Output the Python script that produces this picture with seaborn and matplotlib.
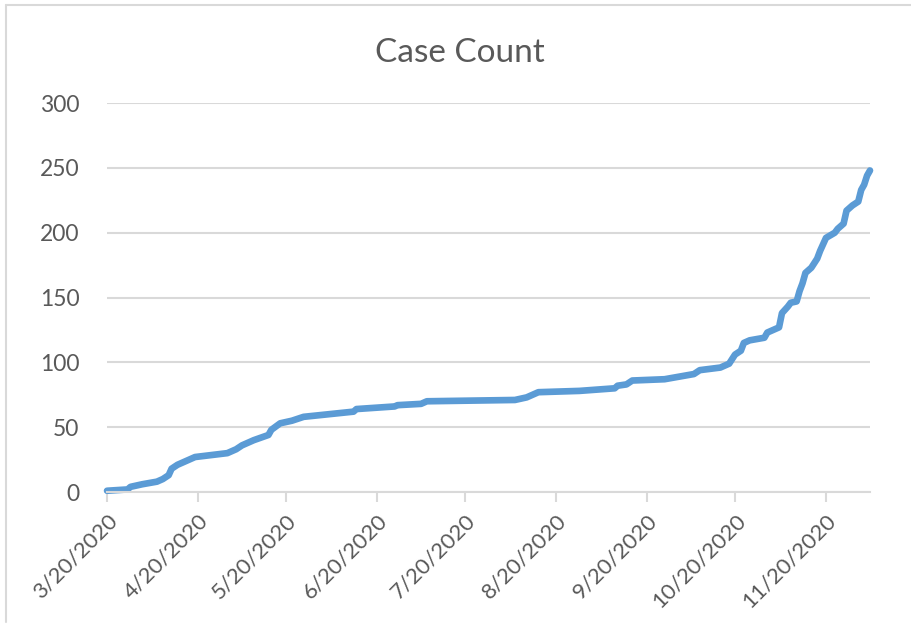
import pandas as pd
import matplotlib
matplotlib.use("Agg")
import matplotlib.pyplot as plt
from matplotlib.lines import Line2D
import seaborn as sns

sns.set_style("white")
plt.rcParams['font.family'] = ['Lato', 'DejaVu Sans']

# datos (casos acumulados)
dates = ["2020-03-20", "2020-03-27", "2020-03-28", "2020-04-01", "2020-04-06",
         "2020-04-08", "2020-04-10", "2020-04-11", "2020-04-13", "2020-04-16",
         "2020-04-19", "2020-04-30", "2020-05-03", "2020-05-05", "2020-05-09",
         "2020-05-14", "2020-05-15", "2020-05-18", "2020-05-22", "2020-05-26",
         "2020-06-12", "2020-06-13", "2020-06-26", "2020-06-27", "2020-07-05",
         "2020-07-07", "2020-08-06", "2020-08-10", "2020-08-14", "2020-08-28",
         "2020-09-09", "2020-09-10", "2020-09-13", "2020-09-15", "2020-09-26",
         "2020-10-01", "2020-10-06", "2020-10-08", "2020-10-15", "2020-10-18",
         "2020-10-20", "2020-10-22", "2020-10-23", "2020-10-25", "2020-10-30",
         "2020-10-31", "2020-11-04", "2020-11-05", "2020-11-07", "2020-11-08",
         "2020-11-10", "2020-11-11", "2020-11-12", "2020-11-13", "2020-11-15",
         "2020-11-17", "2020-11-18", "2020-11-20", "2020-11-23", "2020-11-24",
         "2020-11-26", "2020-11-27", "2020-11-29", "2020-12-01", "2020-12-02",
         "2020-12-03", "2020-12-04", "2020-12-05"]
cases = [1, 2, 4, 6, 8, 10, 13, 18, 21, 24,
         27, 30, 33, 36, 40, 44, 48, 53, 55, 58,
         62, 64, 66, 67, 68, 70, 71, 73, 77, 78,
         80, 82, 83, 86, 87, 89, 91, 94, 96, 99,
         106, 109, 115, 117, 119, 123, 127, 138, 143, 146,
         147, 155, 161, 169, 173, 180, 186, 196, 200, 203,
         207, 217, 221, 224, 233, 237, 244, 248]

tick_dates = ["2020-03-20", "2020-04-20", "2020-05-20", "2020-06-20", "2020-07-20",
              "2020-08-20", "2020-09-20", "2020-10-20", "2020-11-20"]
tick_labels = ["3/20/2020", "4/20/2020", "5/20/2020", "6/20/2020", "7/20/2020",
               "8/20/2020", "9/20/2020", "10/20/2020", "11/20/2020"]
y_ticks = [0, 50, 100, 150, 200, 250, 300]

df = pd.DataFrame({"Fecha": pd.to_datetime(dates), "Casos": cases})

GRID = "#D9D9D9"
TXT = "#595959"

fig = plt.figure(figsize=(9.11, 6.26), dpi=100)
ax = fig.add_axes([0.1175, 0.214, 0.8375, 0.6214])

sns.lineplot(data=df, x="Fecha", y="Casos", ax=ax, color="#5B9BD5",
             linewidth=4.8, solid_capstyle="round", solid_joinstyle="round",
             clip_on=False)

ax.set_xlim(df["Fecha"].min(), df["Fecha"].max())
ax.set_ylim(0, 300)
ax.set_yticks(y_ticks)
ax.set_xticks(pd.to_datetime(tick_dates))
ax.set_xticklabels(tick_labels, rotation=45, ha="right", rotation_mode="anchor")

ax.grid(axis="y", color=GRID, linewidth=1.5)
ax.set_axisbelow(True)
for s in ["top", "right", "left"]:
    ax.spines[s].set_visible(False)
ax.spines["bottom"].set_color(GRID)
ax.spines["bottom"].set_linewidth(1.5)
ax.tick_params(axis="x", colors=TXT, labelsize=16, length=7, width=1.5,
               direction="out", pad=6, color=GRID)
ax.tick_params(axis="x", which="both", bottom=True)
ax.tick_params(axis="y", colors=TXT, labelsize=16.5, length=0, pad=20)
ax.set_xlabel("")
ax.set_ylabel("")

fig.suptitle("Case Count", x=0.505, y=0.94, fontsize=24, color=TXT)

# borde del area del grafico (recortado a la derecha y abajo)
fig.add_artist(Line2D([6 / 911, 6 / 911], [4 / 626, 1 - 5 / 626],
                      transform=fig.transFigure, color=GRID, linewidth=1.5))
fig.add_artist(Line2D([6 / 911, 1], [1 - 5 / 626, 1 - 5 / 626],
                      transform=fig.transFigure, color=GRID, linewidth=1.5))

fig.savefig("out.png", dpi=100, facecolor="white")
